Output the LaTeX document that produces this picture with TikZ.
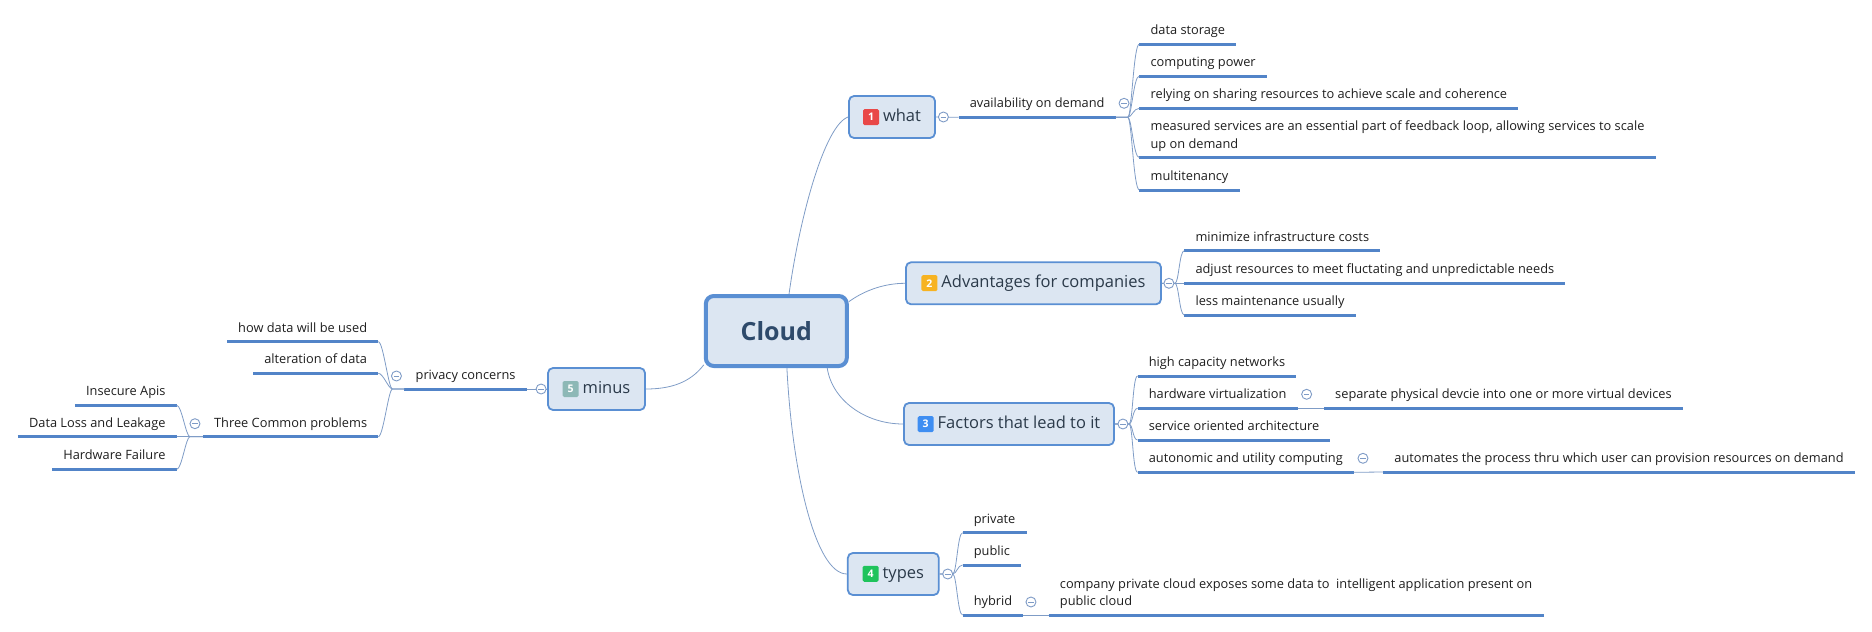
\documentclass[tikz,border=0pt]{standalone}
\usepackage{fontspec}
\setmainfont{Open Sans}

\definecolor{boxfill}{HTML}{DCE6F2}
\definecolor{edgeblue}{HTML}{5A8FD3}
\definecolor{cloudtext}{HTML}{2E4A6B}
\definecolor{topictext}{HTML}{2B3A4A}
\definecolor{leaftext}{HTML}{1E1E1E}
\definecolor{lineblue}{HTML}{5284C8}
\definecolor{twigblue}{HTML}{7F9CC6}
\definecolor{foldblue}{HTML}{7E9BC6}
\definecolor{badgered}{HTML}{E94848}
\definecolor{badgeorange}{HTML}{F7B322}
\definecolor{badgeblue}{HTML}{3E8EF2}
\definecolor{badgegreen}{HTML}{1FC35C}
\definecolor{badgeteal}{HTML}{8DB8B6}

\tikzset{
  hub/.style={draw=edgeblue, line width=4pt, fill=boxfill, rounded corners=8pt,
    minimum width=141pt, minimum height=70pt, text=cloudtext,
    font=\fontsize{25}{30}\selectfont\bfseries},
  topic/.style={draw=edgeblue, line width=1.8pt, fill=boxfill, rounded corners=5pt,
    minimum height=42pt, inner xsep=0pt, text=topictext,
    font=\fontsize{16.5}{20}\selectfont},
  badge/.style={anchor=center, fill=#1, text=white, rounded corners=1.5pt,
    minimum size=16pt, inner sep=0pt, font=\fontsize{10.5}{12}\selectfont\bfseries},
  leaf/.style={anchor=south west, inner xsep=11pt, inner ysep=6pt,
    text height=9pt, text depth=3.5pt, text=leaftext,
    font=\fontsize{12.8}{17.6}\selectfont},
  leafl/.style={leaf, anchor=south east},
  leaf2/.style={leaf, align=left, text height={}, text depth={}},
  uline/.style={draw=lineblue, line width=3pt},
  twig/.style={draw=twigblue, line width=0.8pt},
  fold/.style={circle, draw=foldblue, fill=white, line width=0.9pt,
    minimum size=10pt, inner sep=0pt,
    path picture={\draw[foldblue, line width=0.9pt]
      ([xshift=-2.8pt]path picture bounding box.center) --
      ([xshift=2.8pt]path picture bounding box.center);}}
}

\newcommand{\numbadge}[2]{\tikz[baseline=-0.5ex]\node[badge=#1]{#2};\hspace{4pt}}

\begin{document}
\begin{tikzpicture}[x=1pt,y=-1pt]
\useasboundingbox (0,0) rectangle (1872,632);

% centre and main branches
\node[hub] (cloud) at (776.3,331) {Cloud};
\node[topic, minimum width=86pt] (what) at (892,117) {\numbadge{badgered}{1}what};
\node[topic, minimum width=255pt] (adv) at (1033.5,283.3) {\numbadge{badgeorange}{2}Advantages for companies};
\node[topic, minimum width=210pt] (fac) at (1009,424) {\numbadge{badgeblue}{3}Factors that lead to it};
\node[topic, minimum width=91pt] (types) at (893.3,574) {\numbadge{badgegreen}{4}types};
\node[topic, minimum width=97pt] (minus) at (596.5,389) {\numbadge{badgeteal}{5}minus};

\draw[twig] (cloud.71) .. controls (800,215) and (825,125) .. (what.west);
\draw[twig] (cloud.22) .. controls (865,290) and (885,283.3) .. (adv.west);
\draw[twig] (cloud.-36) .. controls (832,400) and (865,424) .. (fac.west);
\draw[twig] (cloud.-74) .. controls (792,470) and (815,574) .. (types.west);
\draw[twig] (cloud.205) .. controls (690,383) and (670,389) .. (minus.east);

% what
\node[leaf] (avail) at (958.6,117.3) {availability on demand};
\node[leaf] (ds) at (1139.4,44) {data storage};
\node[leaf] (cp) at (1139.4,76) {computing power};
\node[leaf] (rs) at (1139.4,108.3) {relying on sharing resources to achieve scale and coherence};
\node[leaf2] (ms) at (1139.4,157.7) {measured services are an essential part of feedback loop, allowing services to scale\\up on demand};
\node[leaf] (mt) at (1139.4,190) {multitenancy};

% advantages
\node[leaf] (mic) at (1184.3,250.7) {minimize infrastructure costs};
\node[leaf] (adj) at (1184.3,283.3) {adjust resources to meet fluctating and unpredictable needs};
\node[leaf] (lmu) at (1184.3,315) {less maintenance usually};

% factors
\node[leaf] (hcn) at (1137.6,376) {high capacity networks};
\node[leaf] (hv) at (1137.6,408.3) {hardware virtualization};
\node[leaf] (soa) at (1137.6,440) {service oriented architecture};
\node[leaf] (auc) at (1137.6,472.3) {autonomic and utility computing};
\node[leaf] (spd) at (1324,408.3) {separate physical devcie into one or more virtual devices};
\node[leaf] (atp) at (1383.2,472) {automates the process thru which user can provision resources on demand};

% types
\node[leaf] (pri) at (962.6,532.7) {private};
\node[leaf] (pub) at (962.6,565) {public};
\node[leaf] (hyb) at (962.6,615) {hybrid};
\node[leaf2] (cpc) at (1048.7,615) {company private cloud exposes some data to\ \ intelligent application present on\\public cloud};

% minus
\node[leafl] (pc) at (526.7,389) {privacy concerns};
\node[leafl] (hdu) at (378.3,341.7) {how data will be used};
\node[leafl] (aod) at (378.3,373.3) {alteration of data};
\node[leafl] (tcp) at (378.3,436.7) {Three Common problems};
\node[leafl] (ia) at (176.7,405.3) {Insecure Apis};
\node[leafl] (dll) at (176.7,436.7) {Data Loss and Leakage};
\node[leafl] (hf) at (176.7,469.3) {Hardware Failure};

\foreach \n in {avail,ds,cp,rs,ms,mt,mic,adj,lmu,hcn,hv,soa,auc,spd,atp,pri,pub,hyb,cpc,pc,hdu,aod,tcp,ia,dll,hf}
  \draw[uline] (\n.south west) -- (\n.south east);

\draw[twig] (what.east) -- (avail.south west);
\foreach \c in {ds,cp,rs,ms,mt}
  \draw[twig] (avail.south east) -- ++(12,0) .. controls +(4,0) and +(-6,0) .. (\c.south west);
\foreach \c in {mic,adj,lmu}
  \draw[twig] (adv.east) -- ++(13,0) .. controls +(4,0) and +(-5,0) .. (\c.south west);
\foreach \c in {hcn,hv,soa,auc}
  \draw[twig] (fac.east) -- ++(14,0) .. controls +(4,0) and +(-5,0) .. (\c.south west);
\foreach \c in {pri,pub,hyb}
  \draw[twig] (types.east) -- ++(13,0) .. controls +(4,0) and +(-5,0) .. (\c.south west);
\draw[twig] (minus.west) -- (pc.south east);
\foreach \c in {hdu,aod,tcp}
  \draw[twig] (pc.south west) -- ++(-12,0) .. controls +(-4,0) and +(5,0) .. (\c.south east);
\foreach \c in {ia,dll,hf}
  \draw[twig] (tcp.south west) -- ++(-13,0) .. controls +(-4,0) and +(5,0) .. (\c.south east);
\draw[twig] (hv.south east) -- (spd.south west);
\draw[twig] (auc.south east) -- (atp.south west);
\draw[twig] (hyb.south east) -- (cpc.south west);

% collapse marks
\node[fold] (fwhat) at ([xshift=7.5pt]what.east) {};
\node[fold] (fadv) at ([xshift=7pt]adv.east) {};
\node[fold] (ffac) at ([xshift=8pt]fac.east) {};
\node[fold] (ftypes) at ([xshift=8pt]types.east) {};
\node[fold] (fminus) at ([xshift=-6pt]minus.west) {};
\node[fold] (favail) at ([shift={(8.3,-14)}]avail.south east) {};
\node[fold] (fhv) at ([shift={(9,-14)}]hv.south east) {};
\node[fold] (fauc) at ([shift={(9,-14)}]auc.south east) {};
\node[fold] (fhyb) at ([shift={(7.5,-13)}]hyb.south east) {};
\node[fold] (fpc) at ([shift={(-8,-13)}]pc.south west) {};
\node[fold] (ftcp) at ([shift={(-8,-13)}]tcp.south west) {};

\end{tikzpicture}
\end{document}
